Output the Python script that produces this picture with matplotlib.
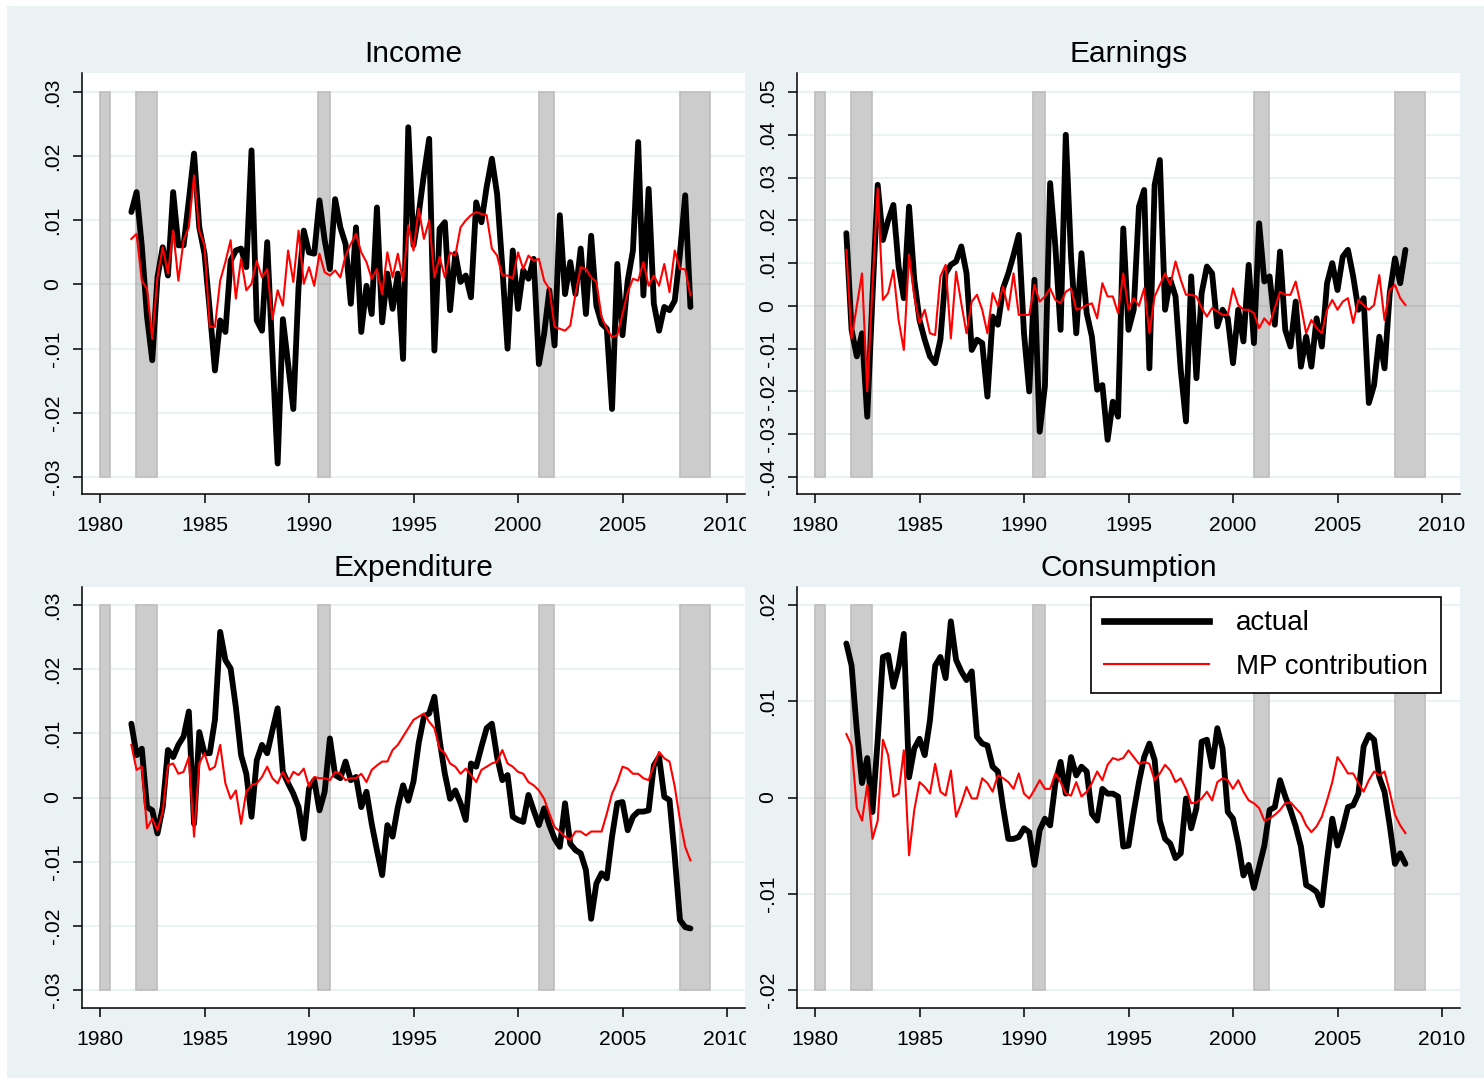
import numpy as np
import matplotlib
matplotlib.use("Agg")
import matplotlib.pyplot as plt
from matplotlib.patches import Rectangle
from matplotlib.lines import Line2D
from matplotlib.transforms import Bbox, TransformedBbox

# ---------------- data (quarterly, 1981Q3 - 2008Q2) ----------------
start_year = 1981.5
n_quarters = 108
dates = start_year + 0.25 * np.arange(n_quarters)

income_actual = [0.0113, 0.0144, 0.0060, -0.0050, -0.0118, 0.0011, 0.0058, 0.0014, 0.0144, 0.0061,
                 0.0061, 0.0131, 0.0204, 0.0089, 0.0048, -0.0040, -0.0134, -0.0056, -0.0074, 0.0037,
                 0.0053, 0.0056, 0.0027, 0.0209, -0.0056, -0.0072, 0.0066, -0.0108, -0.0279, -0.0054,
                 -0.0124, -0.0194, -0.0004, 0.0084, 0.0050, 0.0048, 0.0131, 0.0069, 0.0024, 0.0133,
                 0.0089, 0.0063, -0.0030, 0.0089, -0.0074, -0.0002, -0.0046, 0.0120, -0.0059, 0.0017,
                 -0.0038, 0.0017, -0.0116, 0.0245, 0.0061, 0.0110, 0.0172, 0.0227, -0.0103, 0.0087,
                 0.0097, -0.0040, 0.0048, 0.0004, 0.0014, -0.0020, 0.0128, 0.0097, 0.0152, 0.0196,
                 0.0141, 0.0027, -0.0100, 0.0053, -0.0038, 0.0022, 0.0009, 0.0040, -0.0124, -0.0077,
                 -0.0009, -0.0095, 0.0108, -0.0015, 0.0035, -0.0015, 0.0056, -0.0046, 0.0076, -0.0033,
                 -0.0061, -0.0069, -0.0194, 0.0032, -0.0079, 0.0006, 0.0053, 0.0222, -0.0017, 0.0149,
                 -0.0030, -0.0072, -0.0035, -0.0040, -0.0025, 0.0048, 0.0139, -0.0035]
income_mp = [0.0071, 0.0079, 0.0006, -0.0007, -0.0085, 0.0011, 0.0058, 0.0017, 0.0084, 0.0006,
             0.0069, 0.0089, 0.0170, 0.0084, 0.0061, -0.0066, -0.0066, 0.0006, 0.0035, 0.0069,
             -0.0022, 0.0040, -0.0009, 0.0001, 0.0037, 0.0011, 0.0024, -0.0054, -0.0009, -0.0033,
             0.0053, 0.0004, 0.0084, 0.0001, 0.0027, -0.0002, 0.0048, 0.0019, 0.0014, 0.0022,
             0.0011, 0.0045, 0.0063, 0.0079, 0.0050, 0.0035, 0.0009, 0.0024, -0.0015, 0.0050,
             0.0011, 0.0048, 0.0006, 0.0092, 0.0053, 0.0118, 0.0071, 0.0100, 0.0011, 0.0043,
             0.0011, 0.0050, 0.0045, 0.0089, 0.0100, 0.0108, 0.0113, 0.0110, 0.0108, 0.0056,
             0.0045, 0.0014, 0.0014, 0.0009, 0.0050, 0.0024, 0.0045, 0.0037, 0.0040, 0.0006,
             -0.0007, -0.0066, -0.0069, -0.0072, -0.0064, -0.0015, 0.0027, 0.0024, 0.0011, 0.0004,
             -0.0051, -0.0069, -0.0082, -0.0079, -0.0046, -0.0012, 0.0009, 0.0006, 0.0035, -0.0002,
             0.0014, -0.0002, 0.0032, -0.0012, 0.0053, 0.0024, 0.0024, -0.0017]

earnings_actual = [0.0170, -0.0056, -0.0118, -0.0064, -0.0259, 0.0022, 0.0283, 0.0154, 0.0200, 0.0236,
                   0.0092, 0.0018, 0.0232, 0.0061, -0.0033, -0.0079, -0.0118, -0.0134, -0.0079, 0.0076,
                   0.0096, 0.0104, 0.0139, 0.0076, -0.0103, -0.0079, -0.0087, -0.0212, -0.0025, -0.0044,
                   0.0041, 0.0076, 0.0119, 0.0166, -0.0064, -0.0200, 0.0061, -0.0294, -0.0188, 0.0287,
                   0.0139, -0.0056, 0.0400, 0.0115, -0.0064, 0.0123, -0.0017, -0.0072, -0.0196, -0.0185,
                   -0.0313, -0.0224, -0.0259, 0.0181, -0.0056, -0.0009, 0.0232, 0.0271, -0.0146, 0.0283,
                   0.0341, -0.0009, 0.0061, 0.0022, -0.0150, -0.0270, 0.0069, -0.0169, 0.0030, 0.0092,
                   0.0076, -0.0048, -0.0009, -0.0029, -0.0134, -0.0009, -0.0083, 0.0096, -0.0087, 0.0193,
                   0.0057, 0.0069, -0.0044, 0.0127, -0.0056, -0.0095, 0.0010, -0.0142, -0.0072, -0.0142,
                   -0.0029, -0.0095, 0.0053, 0.0100, 0.0037, 0.0115, 0.0131, 0.0069, -0.0009, 0.0018,
                   -0.0227, -0.0185, -0.0072, -0.0146, 0.0030, 0.0111, 0.0053, 0.0131]
earnings_mp = [0.0131, -0.0076, 0.0000, 0.0076, -0.0200, 0.0045, 0.0275, 0.0014, 0.0030, 0.0084,
               -0.0033, -0.0103, 0.0119, 0.0022, -0.0040, -0.0009, -0.0064, -0.0068, 0.0069, 0.0096,
               -0.0076, 0.0080, 0.0006, -0.0064, 0.0010, 0.0026, -0.0009, -0.0064, 0.0030, 0.0000,
               0.0045, -0.0009, 0.0076, -0.0021, -0.0021, -0.0021, 0.0049, 0.0010, 0.0022, 0.0041,
               0.0014, 0.0006, 0.0033, 0.0041, -0.0009, -0.0005, 0.0002, 0.0006, -0.0029, 0.0053,
               0.0022, 0.0022, -0.0017, 0.0076, -0.0009, 0.0018, 0.0000, 0.0041, -0.0064, 0.0022,
               0.0049, 0.0076, 0.0049, 0.0104, 0.0061, 0.0026, 0.0026, 0.0022, -0.0005, -0.0025,
               -0.0005, -0.0013, -0.0021, -0.0021, 0.0041, 0.0002, -0.0009, -0.0009, -0.0017, -0.0052,
               -0.0029, -0.0044, -0.0005, 0.0033, 0.0026, 0.0026, 0.0057, 0.0000, -0.0064, -0.0033,
               -0.0052, -0.0064, -0.0009, 0.0014, -0.0009, 0.0010, 0.0018, -0.0040, 0.0014, 0.0002,
               -0.0009, 0.0002, 0.0072, -0.0033, 0.0037, 0.0049, 0.0018, 0.0002]

expenditure_actual = [0.0115, 0.0066, 0.0076, -0.0015, -0.0020, -0.0056, -0.0015, 0.0074, 0.0063, 0.0082,
                      0.0095, 0.0134, -0.0041, 0.0102, 0.0069, 0.0069, 0.0121, 0.0258, 0.0214, 0.0201,
                      0.0141, 0.0066, 0.0037, -0.0030, 0.0058, 0.0082, 0.0069, 0.0105, 0.0139, 0.0040,
                      0.0022, 0.0006, -0.0015, -0.0064, 0.0014, 0.0027, -0.0020, 0.0009, 0.0092, 0.0035,
                      0.0030, 0.0056, 0.0027, 0.0032, -0.0015, 0.0009, -0.0041, -0.0082, -0.0121, -0.0043,
                      -0.0061, -0.0015, 0.0019, -0.0005, 0.0025, 0.0085, 0.0126, 0.0131, 0.0157, 0.0089,
                      0.0037, -0.0002, 0.0011, -0.0009, -0.0035, 0.0053, 0.0048, 0.0079, 0.0108, 0.0115,
                      0.0063, 0.0027, 0.0035, -0.0030, -0.0035, -0.0038, 0.0004, -0.0020, -0.0043, -0.0017,
                      -0.0043, -0.0064, -0.0077, -0.0009, -0.0072, -0.0082, -0.0087, -0.0113, -0.0189, -0.0134,
                      -0.0118, -0.0126, -0.0061, -0.0009, -0.0007, -0.0051, -0.0030, -0.0022, -0.0022, -0.0020,
                      0.0050, 0.0063, 0.0001, -0.0004, -0.0092, -0.0191, -0.0202, -0.0204]
expenditure_mp = [0.0082, 0.0043, 0.0048, -0.0048, -0.0033, -0.0051, -0.0022, 0.0050, 0.0053, 0.0037,
                  0.0040, 0.0063, -0.0061, 0.0053, 0.0069, 0.0043, 0.0048, 0.0082, 0.0022, -0.0002,
                  0.0011, -0.0041, 0.0009, 0.0019, 0.0022, 0.0032, 0.0048, 0.0030, 0.0022, 0.0040,
                  0.0024, 0.0040, 0.0035, 0.0045, 0.0017, 0.0032, 0.0030, 0.0030, 0.0027, 0.0040,
                  0.0037, 0.0027, 0.0030, 0.0030, 0.0037, 0.0024, 0.0043, 0.0050, 0.0056, 0.0056,
                  0.0074, 0.0082, 0.0095, 0.0108, 0.0121, 0.0126, 0.0131, 0.0118, 0.0108, 0.0076,
                  0.0069, 0.0053, 0.0048, 0.0037, 0.0045, 0.0035, 0.0024, 0.0043, 0.0048, 0.0053,
                  0.0056, 0.0074, 0.0053, 0.0048, 0.0040, 0.0037, 0.0024, 0.0019, 0.0011, -0.0002,
                  -0.0025, -0.0046, -0.0053, -0.0061, -0.0066, -0.0053, -0.0053, -0.0059, -0.0053, -0.0053,
                  -0.0053, -0.0025, 0.0006, 0.0024, 0.0048, 0.0045, 0.0037, 0.0037, 0.0030, 0.0027,
                  0.0050, 0.0071, 0.0061, 0.0056, 0.0017, -0.0035, -0.0077, -0.0098]

consumption_actual = [0.0160, 0.0137, 0.0070, 0.0015, 0.0041, -0.0015, 0.0060, 0.0146, 0.0148, 0.0115,
                      0.0136, 0.0170, 0.0021, 0.0051, 0.0061, 0.0044, 0.0080, 0.0137, 0.0146, 0.0124,
                      0.0183, 0.0143, 0.0131, 0.0122, 0.0131, 0.0063, 0.0056, 0.0054, 0.0032, 0.0027,
                      -0.0010, -0.0043, -0.0043, -0.0041, -0.0032, -0.0036, -0.0070, -0.0034, -0.0022, -0.0029,
                      0.0015, 0.0037, 0.0004, 0.0042, 0.0023, 0.0032, 0.0027, -0.0017, -0.0024, 0.0009,
                      0.0004, 0.0004, 0.0001, -0.0051, -0.0050, -0.0015, 0.0016, 0.0042, 0.0056, 0.0039,
                      -0.0024, -0.0043, -0.0048, -0.0063, -0.0058, -0.0001, -0.0032, -0.0011, 0.0058, 0.0060,
                      0.0032, 0.0072, 0.0051, -0.0015, -0.0022, -0.0048, -0.0081, -0.0070, -0.0094, -0.0072,
                      -0.0050, -0.0013, -0.0010, 0.0018, 0.0001, -0.0013, -0.0030, -0.0051, -0.0091, -0.0094,
                      -0.0098, -0.0112, -0.0065, -0.0022, -0.0050, -0.0032, -0.0010, -0.0008, 0.0004, 0.0053,
                      0.0065, 0.0060, 0.0021, 0.0006, -0.0029, -0.0069, -0.0058, -0.0069]
consumption_mp = [0.0066, 0.0054, -0.0011, -0.0024, 0.0013, -0.0043, -0.0024, 0.0060, 0.0044, 0.0001,
                  0.0004, 0.0049, -0.0060, -0.0013, 0.0016, 0.0011, 0.0004, 0.0035, 0.0006, 0.0002,
                  0.0028, -0.0020, -0.0006, 0.0011, -0.0001, -0.0001, 0.0020, 0.0015, 0.0006, 0.0023,
                  0.0020, 0.0016, 0.0009, 0.0025, 0.0004, -0.0001, 0.0008, 0.0018, 0.0009, 0.0009,
                  0.0025, 0.0016, 0.0004, 0.0002, 0.0016, 0.0001, 0.0006, 0.0015, 0.0027, 0.0018,
                  0.0034, 0.0041, 0.0039, 0.0041, 0.0049, 0.0042, 0.0035, 0.0037, 0.0035, 0.0018,
                  0.0025, 0.0034, 0.0028, 0.0016, 0.0020, 0.0009, -0.0006, -0.0005, -0.0001, 0.0006,
                  -0.0003, 0.0016, 0.0020, 0.0018, 0.0009, 0.0018, 0.0006, -0.0003, -0.0006, -0.0011,
                  -0.0024, -0.0022, -0.0018, -0.0013, -0.0006, -0.0005, -0.0011, -0.0017, -0.0029, -0.0036,
                  -0.0030, -0.0020, -0.0003, 0.0016, 0.0042, 0.0034, 0.0025, 0.0025, 0.0015, 0.0006,
                  0.0018, 0.0027, 0.0023, 0.0027, 0.0006, -0.0018, -0.0029, -0.0037]

recession_starts = [1980.0, 1981.7, 1990.45, 2001.0, 2007.75]
recession_ends = [1980.5, 1982.75, 1991.0, 2001.7, 2009.2]

x_ticks = [1980, 1985, 1990, 1995, 2000, 2005, 2010]

titles = ["Income", "Earnings", "Expenditure", "Consumption"]
y_ticks_income = [0.03, 0.02, 0.01, 0.0, -0.01, -0.02, -0.03]
y_labels_income = [".03", ".02", ".01", "0", "-.01", "-.02", "-.03"]
y_ticks_earnings = [0.05, 0.04, 0.03, 0.02, 0.01, 0.0, -0.01, -0.02, -0.03, -0.04]
y_labels_earnings = [".05", ".04", ".03", ".02", ".01", "0", "-.01", "-.02", "-.03", "-.04"]
y_ticks_consumption = [0.02, 0.01, 0.0, -0.01, -0.02]
y_labels_consumption = [".02", ".01", "0", "-.01", "-.02"]
legend_labels = ["actual", "MP contribution"]

# ---------------- styling ----------------
plt.rcParams['font.family'] = ['Liberation Sans', 'DejaVu Sans']
BG = '#eaf2f3'
W, H = 1484, 1078
fig = plt.figure(figsize=(W / 100, H / 100), dpi=100, facecolor='white')
fig.patches.append(Rectangle((7 / W, 0), 1 - 7 / W, 1 - 6 / H, transform=fig.transFigure,
                             facecolor=BG, edgecolor='none', zorder=-10))

boxes = [(82, 73, 745, 494), (797, 73, 1460, 494), (82, 587, 745, 1008), (797, 587, 1460, 1008)]
series = [(income_actual, income_mp, y_ticks_income, y_labels_income, (-0.03265, 0.03296)),
          (earnings_actual, earnings_mp, y_ticks_earnings, y_labels_earnings, (-0.04397, 0.05444)),
          (expenditure_actual, expenditure_mp, y_ticks_income, y_labels_income, (-0.0328, 0.0328)),
          (consumption_actual, consumption_mp, y_ticks_consumption, y_labels_consumption, (-0.02187, 0.02187))]

for k, ((x0, y0, x1, y1), (act, mp, yt, yl, ylim)) in enumerate(zip(boxes, series)):
    ax = fig.add_axes([x0 / W, 1 - y1 / H, (x1 - x0) / W, (y1 - y0) / H])
    ax.set_facecolor('white')
    ax.set_xlim(1980 - 18 / 20.9, 1980 + 645 / 20.9)
    ax.set_ylim(*ylim)
    for v in yt:
        ax.axhline(v, color=BG, lw=1.5, zorder=0.5)
    top, bot = max(yt), min(yt)
    for s, e in zip(recession_starts, recession_ends):
        ax.add_patch(Rectangle((s, 0), e - s, top, facecolor='#cccccc', edgecolor='#bdbdbd', lw=1.2, zorder=1))
        ax.add_patch(Rectangle((s, bot), e - s, -bot, facecolor='#cccccc', edgecolor='#bdbdbd', lw=1.2, zorder=1))
    ax.plot(dates, act, color='black', lw=4.2, zorder=3, solid_joinstyle='round', solid_capstyle='round')
    ax.plot(dates, mp, color='red', lw=1.5, zorder=4, solid_joinstyle='round')
    for sp in ['top', 'right']:
        ax.spines[sp].set_visible(False)
    for sp in ['left', 'bottom']:
        ax.spines[sp].set_linewidth(1.1)
        ax.spines[sp].set_color('black')
    ax.set_xticks(x_ticks)
    ax.set_xticklabels([str(t) for t in x_ticks], fontsize=15.2)
    ax.set_yticks(yt)
    ax.set_yticklabels(yl, fontsize=15.2, rotation=90, va='center')
    ax.tick_params(axis='x', length=6.5, width=1.1, pad=9.5, color='black')
    ax.tick_params(axis='y', length=6.5, width=1.1, pad=7.5, color='black')
    if k in (0, 2):
        clip = TransformedBbox(Bbox([[0, 0], [745.5 / W, 1]]), fig.transFigure)
        for lbl in ax.get_xticklabels():
            lbl.set_clip_box(clip)
            lbl.set_clip_on(True)
    fig.text((x0 + x1) / 2 / W, 1 - (y0 - 11) / H, titles[k], ha='center', va='baseline', fontsize=21.5)

handles = [Line2D([], [], color='black', lw=4.8), Line2D([], [], color='red', lw=1.5)]
leg = fig.legend(handles, legend_labels, loc='upper left', bbox_to_anchor=(1091 / W, 1 - 597 / H),
                 borderaxespad=0, fontsize=20, handlelength=3.75, handletextpad=1.0,
                 borderpad=0.48, labelspacing=0.62, fancybox=False, framealpha=1,
                 edgecolor='black', facecolor='white')
leg.get_frame().set_linewidth(1.2)

fig.savefig('out.png', dpi=100, facecolor=fig.get_facecolor())
